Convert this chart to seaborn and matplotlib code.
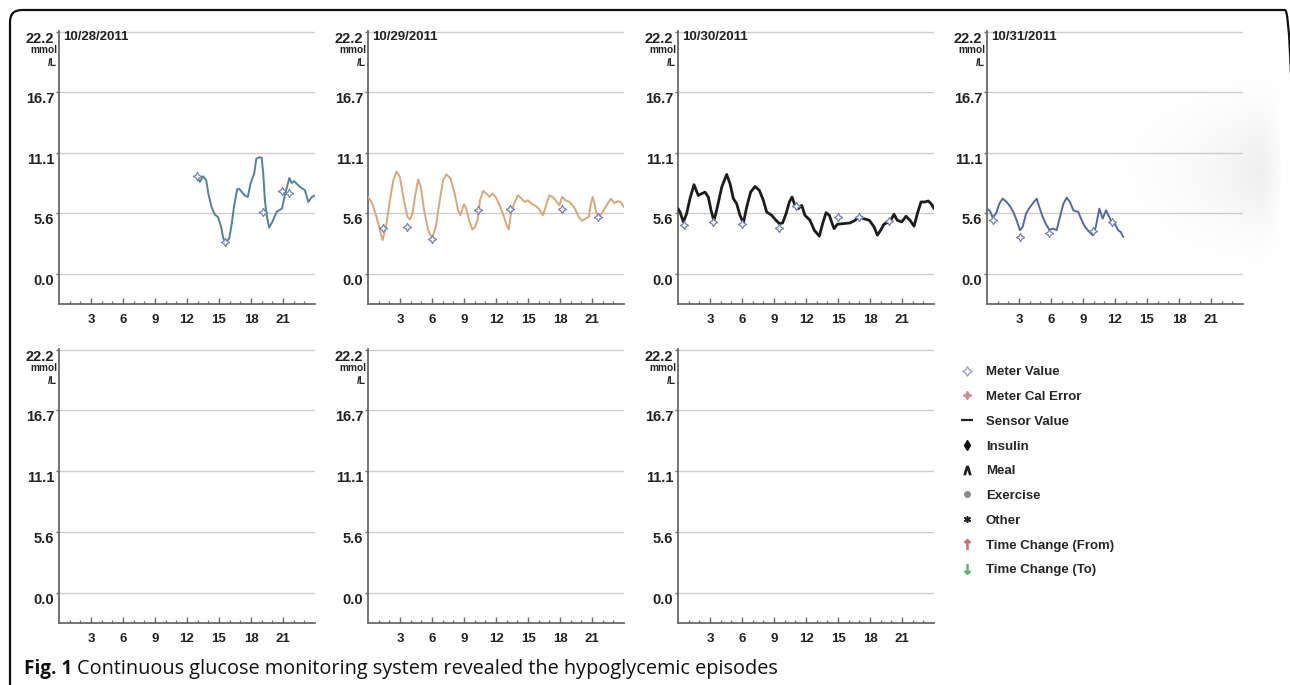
import numpy as np
import pandas as pd
import matplotlib
matplotlib.use("Agg")
import matplotlib.pyplot as plt
import seaborn as sns
from matplotlib.lines import Line2D
from matplotlib.patches import FancyBboxPatch
from matplotlib.ticker import FixedLocator

# ---- data (hour of day, mmol/L) ----
dates = ["10/28/2011", "10/29/2011", "10/30/2011", "10/31/2011"]

hours_1 = [12.9, 13.2, 13.5, 13.8, 14.0, 14.3, 14.6, 14.9, 15.2, 15.4, 15.65, 15.96, 16.2, 16.4,
           16.7, 16.9, 17.4, 17.7, 17.97, 18.3, 18.5, 18.8, 19.0, 19.15, 19.3, 19.47, 19.7, 20.0,
           20.4, 20.9, 21.25, 21.6, 21.8, 22.05, 22.6, 23.06, 23.37, 23.7, 24.0]
glucose_1 = [9.04, 8.43, 8.95, 8.6, 7.37, 6.15, 5.45, 5.23, 4.32, 3.26, 2.9, 3.26, 4.63, 6.15,
             7.76, 7.8, 7.2, 7.06, 8.34, 9.2, 10.57, 10.7, 10.65, 9.2, 6.76, 5.39, 4.26, 4.78,
             5.69, 6.0, 7.52, 8.8, 8.34, 8.5, 7.97, 7.67, 6.6, 7.06, 7.2]
meter_h_1 = [12.95, 15.6, 19.15, 20.95, 21.6]
meter_v_1 = [9.0, 2.96, 5.66, 7.58, 7.43]

hours_2 = [0.0, 0.34, 0.8, 1.2, 1.37, 1.68, 2.06, 2.37, 2.68, 2.99, 3.36, 3.7, 3.93, 4.17, 4.4,
           4.7, 4.95, 5.26, 5.64, 6.01, 6.36, 6.73, 7.04, 7.35, 7.73, 8.13, 8.44, 8.66, 9.0, 9.2,
           9.47, 9.78, 10.06, 10.3, 10.5, 10.8, 11.1, 11.4, 11.65, 11.96, 12.27, 12.65, 13.0,
           13.2, 13.4, 13.7, 14.05, 14.3, 14.67, 14.98, 15.3, 15.76, 16.07, 16.4, 16.7, 17.0,
           17.4, 17.7, 17.94, 18.2, 18.5, 18.88, 19.35, 19.75, 20.06, 20.37, 20.7, 20.9, 21.06,
           21.25, 21.43, 21.7, 22.0, 22.46, 22.77, 23.08, 23.4, 23.7, 23.96]
glucose_2 = [7.06, 6.6, 5.24, 3.71, 3.1, 4.32, 6.76, 8.58, 9.4, 8.89, 6.76, 5.24, 5.0, 5.54, 7.06,
             8.67, 7.98, 5.84, 4.02, 3.26, 4.32, 6.76, 8.58, 9.13, 8.74, 7.37, 5.84, 5.39, 6.39, 6.0,
             4.93, 4.08, 4.32, 5.08, 6.76, 7.61, 7.37, 7.06, 7.37, 7.06, 6.45, 5.54, 4.47,
             4.08, 5.54, 6.45, 7.21, 7.0, 6.6, 6.76, 6.45, 6.21, 5.9, 5.39, 6.3, 7.21,
             7.0, 6.6, 6.3, 7.06, 6.76, 6.6, 6.09, 5.24, 4.87, 5.08, 5.24, 6.45, 7.06,
             6.39, 5.54, 5.24, 5.69, 6.45, 6.9, 6.5, 6.66, 6.6, 6.15]
meter_h_2 = [1.37, 3.68, 6.01, 10.3, 13.3, 18.16, 21.56]
meter_v_2 = [4.23, 4.32, 3.17, 5.84, 6.0, 5.97, 5.24]

hours_3 = [0.0, 0.19, 0.5, 0.81, 1.12, 1.5, 1.9, 2.22, 2.53, 2.84, 3.1, 3.37, 3.69, 4.1, 4.56,
           4.88, 5.19, 5.5, 5.81, 6.13, 6.44, 6.81, 7.22, 7.63, 8.0, 8.31, 8.78, 9.19, 9.5, 9.81,
           10.13, 10.44, 10.69, 10.97, 11.28, 11.6, 11.9, 12.38, 12.78, 13.25, 13.56, 13.88,
           14.19, 14.4, 14.63, 14.94, 15.5, 16.13, 16.6, 17.0, 17.38, 17.94, 18.38, 18.69, 19.0,
           19.31, 19.72, 20.03, 20.25, 20.56, 20.97, 21.38, 21.75, 22.13, 22.44, 22.78, 23.16,
           23.47, 23.78, 24.0]
glucose_3 = [5.99, 5.68, 4.77, 5.53, 6.9, 8.18, 7.2, 7.36, 7.5, 7.05, 5.84, 4.86, 6.14, 7.96, 9.12,
             8.27, 6.9, 6.44, 5.38, 4.68, 6.14, 7.5, 8.02, 7.66, 6.75, 5.68, 5.38, 4.92, 4.62, 4.68,
             5.53, 6.6, 7.05, 6.29, 5.99, 6.29, 5.38, 4.92, 4.01, 3.47, 4.62, 5.62,
             5.38, 4.77, 4.16, 4.56, 4.62, 4.68, 4.92, 5.29, 5.08, 4.92, 4.32, 3.56, 4.01,
             4.56, 4.77, 5.08, 5.47, 4.92, 4.77, 5.29, 4.92, 4.38, 5.53, 6.6, 6.6,
             6.69, 6.38, 5.99]
meter_h_3 = [0.56, 3.31, 6.0, 9.47, 11.1, 14.97, 17.0, 19.81]
meter_v_3 = [4.47, 4.77, 4.62, 4.22, 6.2, 5.23, 5.23, 4.86]

hours_4 = [0.0, 0.28, 0.53, 0.84, 1.16, 1.47, 1.84, 2.16, 2.47, 2.78, 3.09, 3.34, 3.66, 4.03, 4.4,
           4.66, 4.9, 5.22, 5.53, 5.84, 6.22, 6.53, 6.84, 7.16, 7.47, 7.78, 8.09, 8.56, 8.88,
           9.19, 9.59, 9.9, 10.2, 10.53, 10.84, 11.16, 11.38, 11.69, 12.0, 12.3, 12.53, 12.78]
glucose_4 = [5.99, 5.78, 5.17, 5.53, 6.44, 6.9, 6.6, 6.2, 5.68, 4.92, 4.01, 4.32, 5.53, 6.14, 6.6,
             6.9, 6.14, 5.23, 4.56, 4.07, 4.16, 4.01, 5.23, 6.44, 6.99, 6.6, 5.84, 5.68, 4.92,
             4.32, 3.86, 3.56, 4.32, 5.99, 5.08, 5.84, 5.38, 4.77, 4.56, 4.01, 3.86, 3.4]
meter_h_4 = [0.53, 3.09, 5.84, 9.9, 11.69]
meter_v_4 = [4.92, 3.4, 3.77, 3.92, 4.77]

line_colors = ["#4f8396", "#dba676", "#1c1c1c", "#5269a3"]
line_widths = [1.4, 1.4, 2.0, 1.4]
meter_color = "#7181bb"

y_ticks = [0.0, 5.6, 11.1, 16.7, 22.2]
x_ticks = [3, 6, 9, 12, 15, 18, 21]

legend_labels = ["Meter Value", "Meter Cal Error", "Sensor Value", "Insulin", "Meal",
                 "Exercise", "Other", "Time Change (From)", "Time Change (To)"]

sns.set_theme(style="white")
plt.rcParams["font.family"] = ["Liberation Sans", "DejaVu Sans"]

W, H = 1290, 685
fig = plt.figure(figsize=(W / 100, H / 100), dpi=100)
fig.patch.set_facecolor("white")


def px_rect(left, top, width, height):
    return [left / W, 1 - (top + height) / H, width / W, height / H]


def style_axis(ax):
    ax.set_xlim(0, 24)
    ax.set_ylim(-2.74, 22.25)
    ax.set_facecolor("none")
    for s in ["top", "right"]:
        ax.spines[s].set_visible(False)
    for s in ["left", "bottom"]:
        ax.spines[s].set_color("#6a6a6a")
        ax.spines[s].set_linewidth(1.3)
    ax.set_yticks(y_ticks)
    ax.set_yticklabels(["%.1f" % v for v in y_ticks])
    ax.set_xticks(x_ticks)
    ax.set_xticklabels([str(v) for v in x_ticks])
    ax.xaxis.set_minor_locator(FixedLocator([h for h in range(1, 24) if h % 3 != 0]))
    ax.yaxis.grid(True, color="#cdcdcd", linewidth=1.0)
    ax.xaxis.grid(False)
    ax.tick_params(axis="y", which="major", direction="out", length=2.5, width=1,
                   color="#6a6a6a", pad=0.8, labelsize=10.5, left=True)
    ax.tick_params(axis="x", which="major", direction="in", length=4.5, width=1,
                   color="#6a6a6a", pad=7.5, labelsize=9.5, bottom=True)
    ax.tick_params(axis="x", which="minor", direction="in", length=2.0, width=0.9,
                   color="#6a6a6a", bottom=True)
    for lab in ax.get_yticklabels():
        lab.set_fontweight("bold")
        lab.set_va("top")
        lab.set_color("#222222")
    for lab in ax.get_xticklabels():
        lab.set_fontweight("bold")
        lab.set_color("#222222")
    ax.annotate("mmol", xy=(0, 22.2), xycoords=("axes fraction", "data"),
                xytext=(-1.2, -9.6), textcoords="offset points", ha="right", va="top",
                fontsize=7.3, fontweight="bold", color="#222222")
    ax.annotate("/L", xy=(0, 22.2), xycoords=("axes fraction", "data"),
                xytext=(-1.2, -19), textcoords="offset points", ha="right", va="top",
                fontsize=7.3, fontweight="bold", color="#222222")


lefts = [59, 368, 678, 987]
series = [(hours_1, glucose_1, meter_h_1, meter_v_1),
          (hours_2, glucose_2, meter_h_2, meter_v_2),
          (hours_3, glucose_3, meter_h_3, meter_v_3),
          (hours_4, glucose_4, meter_h_4, meter_v_4)]

# faint grey smear from the scan on the right of the last day
smear_ax = fig.add_axes(px_rect(1060, 50, 222, 220), zorder=0)
gx, gy = np.meshgrid(np.linspace(0, 1, 220), np.linspace(0, 1, 220))
ramp = np.clip(gx / 0.9, 0, 1) ** 2.5 * np.clip((1 - gx) / 0.1, 0, 1) ** 0.6
smear = ramp * np.exp(-((gy - 0.55) / 0.26) ** 2)
smear_ax.imshow(smear, cmap="Greys", vmin=0, vmax=7.5, aspect="auto", interpolation="bilinear")
smear_ax.axis("off")

# top row: four days with data
for i, (hh, gg, mh, mv) in enumerate(series):
    ax = fig.add_axes(px_rect(lefts[i], 31, 256, 273), zorder=2)
    style_axis(ax)
    df = pd.DataFrame({"hour": hh, "glucose": gg})
    sns.lineplot(data=df, x="hour", y="glucose", ax=ax, color=line_colors[i],
                 linewidth=line_widths[i], sort=False, zorder=3,
                 solid_joinstyle="round", solid_capstyle="round")
    ax.scatter(mh, mv, marker=(4, 1, 0), s=34, facecolor="white",
               edgecolor=meter_color, linewidth=0.9, zorder=4)
    ax.set_xlabel("")
    ax.set_ylabel("")
    ax.annotate(dates[i], xy=(0, 22.2), xycoords=("axes fraction", "data"),
                xytext=(3, 0.5), textcoords="offset points", ha="left", va="top",
                fontsize=9.5, fontweight="bold", color="#222222")

# bottom row: empty days
for i in range(3):
    ax = fig.add_axes(px_rect(lefts[i], 349, 256, 274), zorder=2)
    style_axis(ax)

# legend for the report symbols
handles = [
    Line2D([], [], ls="none", marker=(4, 1, 0), ms=7, mfc="white", mec="#9a9ad0", mew=0.9),
    Line2D([], [], ls="none", marker=(4, 1, 0), ms=6, mfc="#d08a98", mec="#d08a98"),
    Line2D([], [], ls="none", marker="_", ms=8, mec="#222222", mew=1.6),
    Line2D([], [], ls="none", marker="d", ms=5, mfc="#111111", mec="#111111"),
    Line2D([], [], ls="none", marker=r"$\wedge$", ms=6, mfc="#222222", mec="#222222"),
    Line2D([], [], ls="none", marker="o", ms=4, mfc="#8a8a8a", mec="#8a8a8a"),
    Line2D([], [], ls="none", marker=(6, 2, 0), ms=5, mec="#222222", mew=1.1),
    Line2D([], [], ls="none", marker=r"$\uparrow$", ms=7, mfc="#d46a6a", mec="#d46a6a"),
    Line2D([], [], ls="none", marker=r"$\downarrow$", ms=7, mfc="#5fb56a", mec="#5fb56a"),
]
fig.legend(handles, legend_labels, loc="upper left",
           bbox_to_anchor=(960 / W, 1 - 366 / H), frameon=False,
           prop={"weight": "bold", "size": 9.5}, handlelength=1.0,
           handletextpad=0.95, labelspacing=0.95, borderpad=0, borderaxespad=0)

# caption
cap_y = 1 - 674 / H
t1 = fig.text(24 / W, cap_y, "Fig. 1", fontsize=13.6, fontweight="bold",
              family=["Open Sans", "DejaVu Sans"], va="baseline", color="#111111")
fig.canvas.draw()
bb = t1.get_window_extent(fig.canvas.get_renderer())
fig.text(bb.x1 / W + 5 / W, cap_y,
         "Continuous glucose monitoring system revealed the hypoglycemic episodes",
         fontsize=14.3, family=["Open Sans", "DejaVu Sans"], va="baseline", color="#111111")

# rounded frame around the figure
frame = FancyBboxPatch((0.10, -0.5), 12.87, 7.25, boxstyle="round,pad=0,rounding_size=0.12",
                       transform=fig.dpi_scale_trans, fill=False, edgecolor="#111111",
                       linewidth=1.6)
fig.patches.append(frame)

fig.savefig("out.png", dpi=100, facecolor="white")
